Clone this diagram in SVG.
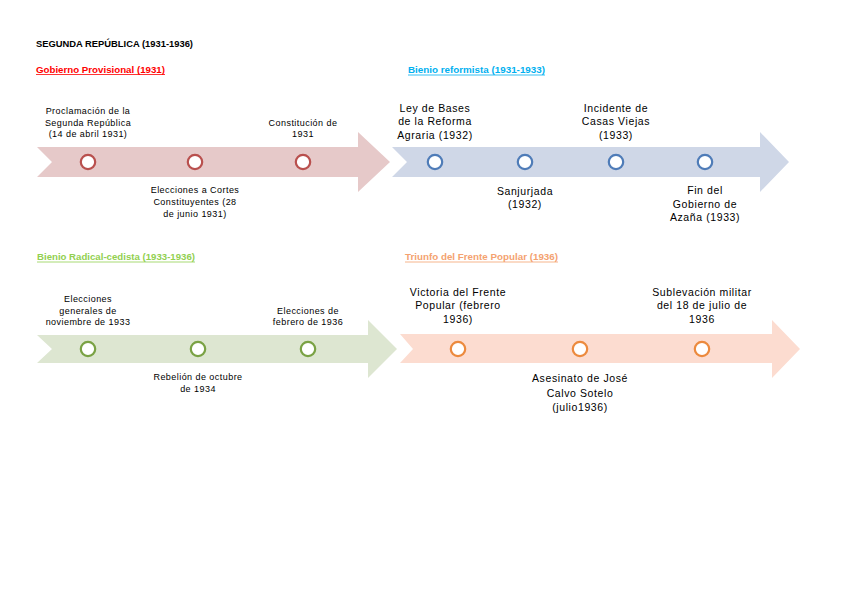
<svg xmlns="http://www.w3.org/2000/svg" width="848" height="599" viewBox="0 0 848 599">
<style>
text{font-family:"Liberation Sans",Arial,sans-serif;fill:#000}
.title{font-size:9.5px;font-weight:bold}
.hd{font-size:9.5px;font-weight:bold}
.sm{font-size:9px;letter-spacing:0.45px;text-anchor:middle}
.lg{font-size:10.5px;letter-spacing:0.6px;text-anchor:middle}
.ul{stroke-width:0.8}
.dot{fill:#fff;stroke-width:2.2}
</style>
<rect width="848" height="599" fill="#fff"/>
<text class="title" x="36" y="47" textLength="157" lengthAdjust="spacingAndGlyphs">SEGUNDA REPÚBLICA (1931-1936)</text>

<g id="heading-gobierno">
<text class="hd" x="36" y="72.5" style="fill:#ff0000" textLength="129" lengthAdjust="spacingAndGlyphs">Gobierno Provisional (1931)</text>
<line class="ul" x1="36" y1="74.5" x2="165" y2="74.5" stroke="#ff0000"/>
</g>
<g id="heading-bienio-reformista">
<text class="hd" x="408" y="73" style="fill:#00b0f0" textLength="137" lengthAdjust="spacingAndGlyphs">Bienio reformista (1931-1933)</text>
<line class="ul" x1="408" y1="75" x2="545" y2="75" stroke="#00b0f0"/>
</g>
<g id="heading-bienio-radical">
<text class="hd" x="37" y="260" style="fill:#92d050" textLength="158" lengthAdjust="spacingAndGlyphs">Bienio Radical-cedista (1933-1936)</text>
<line class="ul" x1="37" y1="262" x2="195" y2="262" stroke="#92d050"/>
</g>
<g id="heading-frente-popular">
<text class="hd" x="405" y="260" style="fill:#f4a270" textLength="153" lengthAdjust="spacingAndGlyphs">Triunfo del Frente Popular (1936)</text>
<line class="ul" x1="405" y1="262" x2="558" y2="262" stroke="#f4a270"/>
</g>

<g id="arrow-gobierno">
<polygon points="37,147 358,147 358,132 390,162 358,192 358,177 37,177 52,162" fill="#e6c9c9"/>
</g>
<g id="arrow-reformista">
<polygon points="392,147 760,147 760,132 789,162 760,192 760,177 392,177 407,162" fill="#cfd7e7"/>
</g>
<g id="arrow-radical">
<polygon points="37,335 368,335 368,320 397,349 368,378 368,363 37,363 52,349" fill="#dde6d1"/>
</g>
<g id="arrow-frente">
<polygon points="400,334 772,334 772,320 800,349 772,378 772,363 400,363 413,349" fill="#fcdcd0"/>
</g>

<g id="ev-proclamacion">
<circle class="dot" cx="88" cy="162" r="7.2" stroke="#b9504e"/>
<text class="sm" x="88" y="113.5">Proclamación de la</text>
<text class="sm" x="88" y="125.5">Segunda República</text>
<text class="sm" x="88" y="137">(14 de abril 1931)</text>
</g>
<g id="ev-elecciones-cortes">
<circle class="dot" cx="195" cy="162" r="7.2" stroke="#b9504e"/>
<text class="sm" x="195" y="192.5">Elecciones a Cortes</text>
<text class="sm" x="195" y="204.5">Constituyentes (28</text>
<text class="sm" x="195" y="216.5">de junio 1931)</text>
</g>
<g id="ev-constitucion">
<circle class="dot" cx="303" cy="162" r="7.2" stroke="#b9504e"/>
<text class="sm" x="303" y="125.5">Constitución de</text>
<text class="sm" x="303" y="137">1931</text>
</g>

<g id="ev-ley-bases">
<circle class="dot" cx="435" cy="162" r="7.2" stroke="#4f7cb8"/>
<text class="lg" x="435" y="112">Ley de Bases</text>
<text class="lg" x="435" y="125">de la Reforma</text>
<text class="lg" x="435" y="138.5">Agraria (1932)</text>
</g>
<g id="ev-sanjurjada">
<circle class="dot" cx="525" cy="162" r="7.2" stroke="#4f7cb8"/>
<text class="lg" x="525" y="194.5">Sanjurjada</text>
<text class="lg" x="525" y="207.5">(1932)</text>
</g>
<g id="ev-casas-viejas">
<circle class="dot" cx="616" cy="162" r="7.2" stroke="#4f7cb8"/>
<text class="lg" x="616" y="112">Incidente de</text>
<text class="lg" x="616" y="125">Casas Viejas</text>
<text class="lg" x="616" y="138.5">(1933)</text>
</g>
<g id="ev-fin-azana">
<circle class="dot" cx="705" cy="162" r="7.2" stroke="#4f7cb8"/>
<text class="lg" x="705" y="194">Fin del</text>
<text class="lg" x="705" y="207.5">Gobierno de</text>
<text class="lg" x="705" y="221">Azaña (1933)</text>
</g>

<g id="ev-elecciones-1933">
<circle class="dot" cx="88" cy="349" r="7.2" stroke="#7aa244"/>
<text class="sm" x="88" y="301.5">Elecciones</text>
<text class="sm" x="88" y="313.5">generales de</text>
<text class="sm" x="88" y="325">noviembre de 1933</text>
</g>
<g id="ev-rebelion-1934">
<circle class="dot" cx="198" cy="349" r="7.2" stroke="#7aa244"/>
<text class="sm" x="198" y="380">Rebelión de octubre</text>
<text class="sm" x="198" y="391.5">de 1934</text>
</g>
<g id="ev-elecciones-1936">
<circle class="dot" cx="308" cy="349" r="7.2" stroke="#7aa244"/>
<text class="sm" x="308" y="313.5">Elecciones de</text>
<text class="sm" x="308" y="325">febrero de 1936</text>
</g>

<g id="ev-victoria-frente">
<circle class="dot" cx="458" cy="349" r="7.2" stroke="#ec8a3e"/>
<text class="lg" x="458" y="295.5">Victoria del Frente</text>
<text class="lg" x="458" y="309">Popular (febrero</text>
<text class="lg" x="458" y="323">1936)</text>
</g>
<g id="ev-calvo-sotelo">
<circle class="dot" cx="580" cy="349" r="7.2" stroke="#ec8a3e"/>
<text class="lg" x="580" y="382">Asesinato de José</text>
<text class="lg" x="580" y="396.5">Calvo Sotelo</text>
<text class="lg" x="580" y="410.5">(julio1936)</text>
</g>
<g id="ev-sublevacion">
<circle class="dot" cx="702" cy="349" r="7.2" stroke="#ec8a3e"/>
<text class="lg" x="702" y="295.5">Sublevación militar</text>
<text class="lg" x="702" y="309">del 18 de julio de</text>
<text class="lg" x="702" y="323">1936</text>
</g>
<g id="connectors"></g>
</svg>
